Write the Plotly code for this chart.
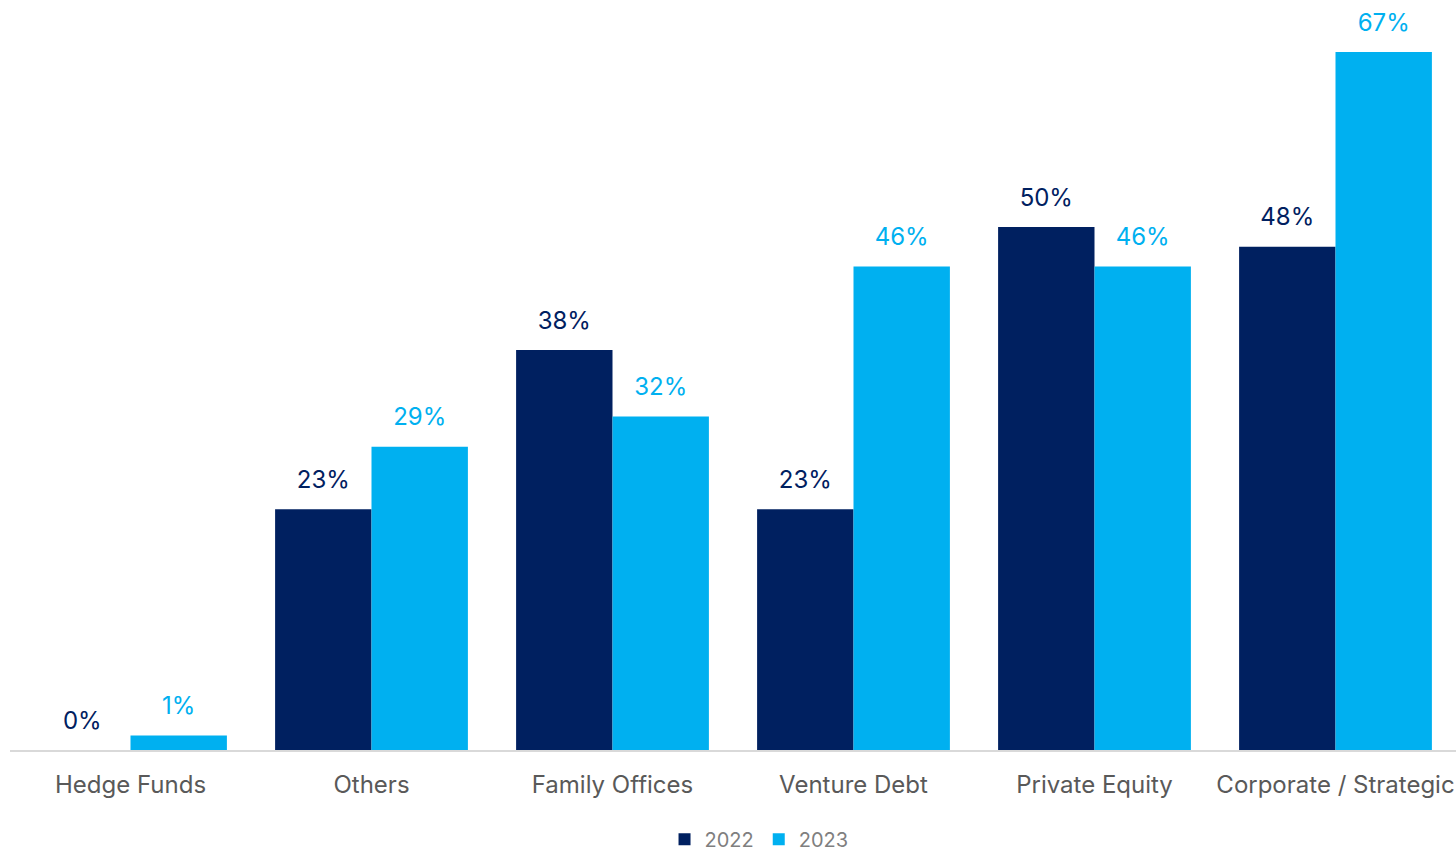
import plotly.graph_objects as go

categories = ["Hedge Funds", "Others", "Family Offices", "Venture Debt", "Private Equity", "Corporate / Strategic"]
values_2022 = [0, 23.1, 38.4, 23.1, 50.2, 48.3]
values_2023 = [1.4, 29.1, 32.0, 46.4, 46.4, 67.0]
series_names = ["2022", "2023"]

NAVY = "#002060"
CYAN = "#00B0F0"
FONT = "Inter, 'Open Sans', sans-serif"

fig = go.Figure()
for name, vals, col in [(series_names[0], values_2022, NAVY), (series_names[1], values_2023, CYAN)]:
    fig.add_trace(go.Bar(
        x=categories, y=vals, name=name, offsetgroup=name,
        marker=dict(color=col, line=dict(width=0)),
        hoverinfo="skip",
    ))
for name, vals, col in [(series_names[0], values_2022, NAVY), (series_names[1], values_2023, CYAN)]:
    fig.add_trace(go.Scatter(
        x=categories, y=vals, name=name, offsetgroup=name,
        mode="markers+text", showlegend=False,
        marker=dict(size=23, opacity=0),
        text=[f"{v:.0f}%" for v in vals], textposition="top center",
        textfont=dict(color=col, size=24, family=FONT),
        cliponaxis=False, hoverinfo="skip",
    ))

fig.update_layout(
    width=1456, height=853,
    margin=dict(l=10, r=0, t=0, b=103, autoexpand=False),
    paper_bgcolor="white", plot_bgcolor="white",
    barmode="group", bargap=0.2, bargroupgap=0,
    scattermode="group", scattergap=0.2,
    font=dict(family=FONT, color="#595959"),
    xaxis=dict(showgrid=False, showline=True, linecolor="#D9D9D9", linewidth=2, automargin=False,
               ticks="", tickfont=dict(size=24, color="#595959"), ticklabelstandoff=12),
    yaxis=dict(visible=False, range=[0, 71.98], automargin=False),
    legend=dict(orientation="h", x=0.518, xanchor="center", yref="container", y=0.016, yanchor="middle",
                font=dict(size=20, color="#7F7F7F"), itemwidth=30, traceorder="normal"),
)
fig.write_html("out.html", post_script="document.body.style.margin='0';",
               config={"displayModeBar": False})
